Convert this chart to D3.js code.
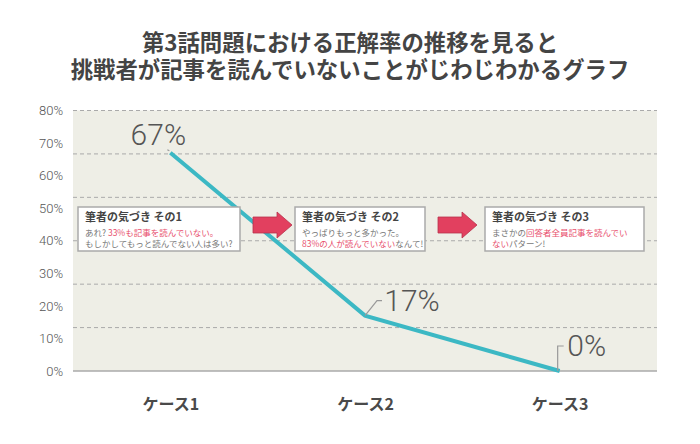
<!DOCTYPE html>
<html><head><meta charset="utf-8">
<script src="https://cdn.jsdelivr.net/npm/d3@7"></script>
<style>
body{margin:0;background:#fff;}
svg{display:block;}
</style></head>
<body>
<svg id="chart" width="700" height="444"></svg>
<script>
const titleLines = ["第3話問題における正解率の推移を見ると", "挑戦者が記事を読んでいないことがじわじわかるグラフ"];
const categories = ["ケース1", "ケース2", "ケース3"];
const values = [67, 17, 0];
const yTicks = [0, 10, 20, 30, 40, 50, 60, 70, 80];
const gridValues = [0, 80/6, 160/6, 40, 320/6, 400/6, 80];
const noteTitles = ["筆者の気づき その1", "筆者の気づき その2", "筆者の気づき その3"];
// each line: list of [text, highlighted?]
const noteLines = [
  [[["あれ? ", 0], ["33%も記事を読んでいない。", 1]], [["もしかしてもっと読んでない人は多い?", 0]]],
  [[["やっぱりもっと多かった。", 0]], [["83%の人が読んでいない", 1], ["なんて!", 0]]],
  [[["まさかの", 0], ["回答者全員記事を読んでい", 1]], [["ない", 1], ["パターン!", 0]]]
];

(function(){
const W = 700, H = 444;
const pLeft = 73, pRight = 657, pTop = 110.5, pBottom = 371;
const svg = d3.select("#chart");
const jp = "'Noto Sans CJK JP','Noto Sans',sans-serif";

// title (one text block, two lines)
svg.append("text")
  .attr("text-anchor", "middle")
  .attr("font-family", jp).attr("font-weight", "bold").attr("font-size", 22.4)
  .attr("fill", "#444")
  .selectAll("tspan").data(titleLines).join("tspan")
  .attr("x", W/2).attr("y", (d,i) => 50.5 + i*27.5)
  .text(d => d);

const x = d3.scalePoint().domain(categories).range([pLeft, pRight]).padding(0.5);
const y = d3.scaleLinear().domain([0, 80]).range([pBottom, pTop]);

// plot background
svg.append("rect").attr("x", pLeft).attr("y", pTop).attr("width", pRight-pLeft).attr("height", pBottom-pTop)
  .attr("fill", "#eeeee6");

// gridlines
svg.append("g").selectAll("line").data(gridValues.filter(v => v > 0)).join("line")
  .attr("x1", pLeft).attr("x2", pRight)
  .attr("y1", d => y(d)).attr("y2", d => y(d))
  .attr("stroke", "#aaa").attr("stroke-width", 1).attr("stroke-dasharray", "4,3");

// baseline
svg.append("line").attr("x1", pLeft).attr("x2", pRight).attr("y1", y(0)).attr("y2", y(0))
  .attr("stroke", "#aaa").attr("stroke-width", 1.5);

// y axis
const yAxis = svg.append("g").attr("transform", `translate(${pLeft},0)`)
  .call(d3.axisLeft(y).tickValues(yTicks).tickSize(0).tickPadding(10).tickFormat(d => d + "%"));
yAxis.select(".domain").remove();
yAxis.selectAll("text").attr("font-family", "Roboto, 'Noto Sans', sans-serif").attr("font-weight", 300)
  .attr("font-size", 13).attr("fill", "#555");

// x axis
const xAxis = svg.append("g").attr("transform", `translate(0,${pBottom})`)
  .call(d3.axisBottom(x).tickSize(0).tickPadding(28));
xAxis.select(".domain").remove();
xAxis.selectAll("text").attr("font-family", jp).attr("font-weight", "bold")
  .attr("font-size", 16).attr("fill", "#4a4a4a");

// line
const pts = categories.map((c, i) => [x(c), y(values[i])]);
svg.append("path").datum(pts)
  .attr("d", d3.line())
  .attr("fill", "none").attr("stroke", "#3cb8c4").attr("stroke-width", 4)
  .attr("stroke-linejoin", "miter");

// value labels with leaders
const labelOffsets = [[-12, -8], [47, -5], [27, -15]];
const leaderPaths = [
  p => `M${p[0]-1},${p[1]-2}L${p[0]-3},${p[1]-3}`,
  p => `M${p[0]},${p[1]}L${p[0]+12},${p[1]-15}L${p[0]+17},${p[1]-15}`,
  p => `M${p[0]-2},${p[1]}L${p[0]-2},${p[1]-25}L${p[0]+4},${p[1]-25}`
];
pts.forEach((p, i) => {
  svg.append("path").attr("d", leaderPaths[i](p)).attr("fill", "none")
    .attr("stroke", "#999").attr("stroke-width", 1.2);
  svg.append("text")
    .attr("x", p[0] + labelOffsets[i][0]).attr("y", p[1] + labelOffsets[i][1])
    .attr("text-anchor", "middle")
    .attr("font-family", "Roboto, 'Noto Sans', sans-serif").attr("font-weight", 300)
    .attr("font-size", 30).attr("fill", "#555")
    .text(values[i] + "%");
});

// arrows
const arrowX = [253, 438];
arrowX.forEach(ax => {
  const cy = 225;
  svg.append("path")
    .attr("d", `M${ax},${cy-8}L${ax+24},${cy-8}L${ax+24},${cy-13}L${ax+39},${cy}L${ax+24},${cy+13}L${ax+24},${cy+8}L${ax},${cy+8}Z`)
    .attr("fill", "#e2405f").attr("stroke", "#b8324c").attr("stroke-width", 0.8);
});

// annotation boxes
const boxes = [[78, 207, 162, 44], [295, 207, 130, 44], [485, 207, 159, 44]];
boxes.forEach((b, i) => {
  const g = svg.append("g");
  g.append("rect").attr("x", b[0]).attr("y", b[1]).attr("width", b[2]).attr("height", b[3])
    .attr("fill", "#fff").attr("stroke", "#aaa").attr("stroke-width", 1.5);
  g.append("text").attr("x", b[0] + 7).attr("y", b[1] + 13.5)
    .attr("font-family", jp).attr("font-weight", "bold").attr("font-size", 11)
    .attr("fill", "#444").text(noteTitles[i]);
  noteLines[i].forEach((line, li) => {
    const t = g.append("text").attr("x", b[0] + 7).attr("y", b[1] + 28.5 + li * 11.5)
      .attr("font-family", jp).attr("font-size", 8.5);
    line.forEach(seg => {
      t.append("tspan").attr("fill", seg[1] ? "#e8506e" : "#777").text(seg[0]);
    });
  });
});
})();
</script>
</body></html>
